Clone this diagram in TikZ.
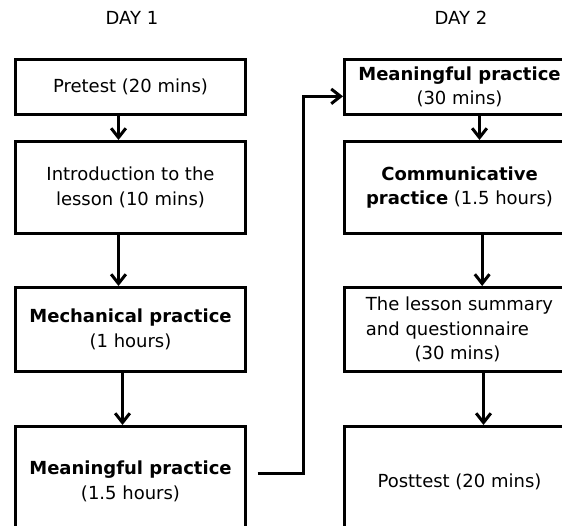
\documentclass[tikz,border=0pt]{standalone}
\usepackage{fontspec}
\setmainfont{DejaVu Sans}
\usetikzlibrary{positioning,arrows.meta}

\begin{document}
\begin{tikzpicture}[x=0.75pt, y=-0.75pt,
    stage/.style={draw, line width=2.25pt, minimum width=172.5pt, align=center, inner sep=2pt, font=\fontsize{13.5}{18.5}\selectfont},
    daytitle/.style={font=\fontsize{13.5}{16}\selectfont},
    flow/.style={-{Straight Barb[length=7pt, width=11pt]}, line width=2.25pt}]
    \useasboundingbox (0,0) rectangle (562,526);

    % day 1
    \node[stage, minimum height=41.25pt, anchor=north west] (pretest) at (14,58) {Pretest (20 mins)};
    \node[stage, minimum height=69pt, below=18pt of pretest] (intro) {Introduction to the\\lesson (10 mins)};
    \node[stage, minimum height=63pt, below=38.25pt of intro] (mech) {\textbf{Mechanical practice}\\(1 hours)};
    \node[stage, minimum height=82.5pt, below=39pt of mech] (meanone) {\textbf{Meaningful practice}\\(1.5 hours)};

    % day 2
    \node[stage, minimum height=41.25pt, right=72pt of pretest] (meantwo) {\textbf{Meaningful practice}\\(30 mins)};
    \node[stage, minimum height=69pt, right=72pt of intro] (comm) {\textbf{Communicative}\\\textbf{practice} (1.5 hours)};
    \node[stage, minimum height=63pt, right=72pt of mech, align=left] (summary) {The lesson summary\\and questionnaire\\\hspace*{2.7em}(30 mins)};
    \node[stage, minimum height=82.5pt, right=72pt of meanone] (posttest) {Posttest (20 mins)};

    \node[daytitle] (dayone) at (132,18) {DAY 1};
    \node[daytitle] (daytwo) at (461,18) {DAY 2};

    \draw[flow] ([xshift=-9pt]pretest.south) -- ([xshift=-9pt]intro.north);
    \draw[flow] ([xshift=-9pt]intro.south) -- ([xshift=-9pt]mech.north);
    \draw[flow] ([xshift=-6pt]mech.south) -- ([xshift=-6pt]meanone.north);
    \draw[flow] ([xshift=15pt]meantwo.south) -- ([xshift=15pt]comm.north);
    \draw[flow] ([xshift=17pt]comm.south) -- ([xshift=17pt]summary.north);
    \draw[flow] ([xshift=18pt]summary.south) -- ([xshift=18pt]posttest.north);

    \coordinate (bend) at (303,473);
    \draw[flow] ([xshift=8pt]meanone.east |- bend) -- (bend) |- ([yshift=-7pt]meantwo.west);
\end{tikzpicture}
\end{document}
